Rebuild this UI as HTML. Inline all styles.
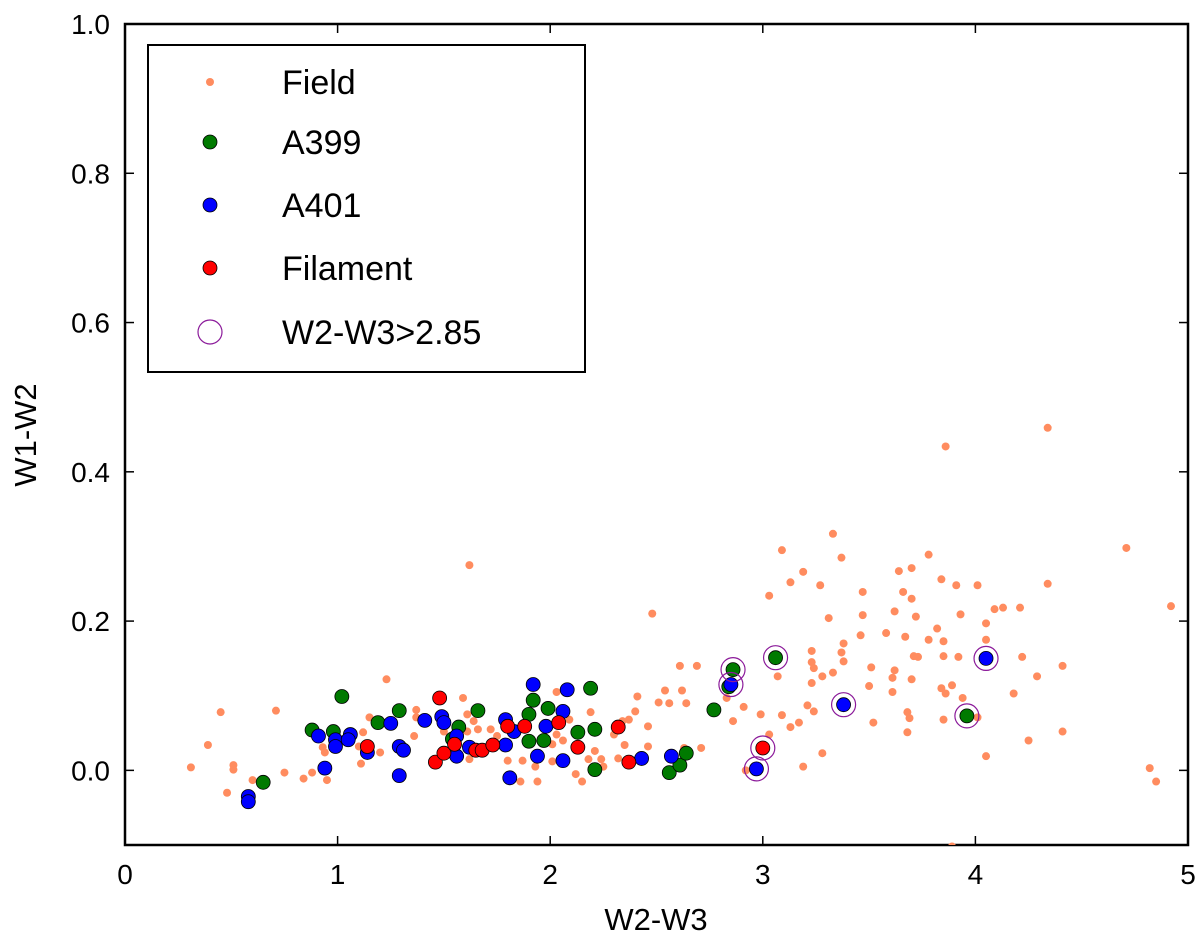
<!DOCTYPE html>
<html><head><meta charset="utf-8"><style>
body{margin:0;background:#fff}
svg text{font-family:"Liberation Sans","DejaVu Sans",sans-serif;fill:#000}
</style></head><body>
<svg id="chart" width="1200" height="938" viewBox="0 0 1200 938" xmlns="http://www.w3.org/2000/svg">
<g id="axes"></g>
<g id="marks"></g>
<g id="legend"></g>
</svg>
<script>
const xTicks=[0,1,2,3,4,5];
const yTicks=[0.0,0.2,0.4,0.6,0.8,1.0];
const fieldX=[4.34,3.86,3.33,3.09,3.37,3.78,3.19,3.64,3.70,3.13,3.27,3.03,3.47,3.66,3.70,3.84,3.91,4.01,4.34,4.71,4.92,3.31,3.47,3.62,3.72,3.93,4.09,4.13,4.21,4.05,3.46,3.58,3.67,3.82,3.78,3.85,4.05,3.38,3.23,3.37,3.38,3.23,3.24,3.71,3.73,3.85,3.92,4.22,4.41,3.07,3.28,3.33,3.51,3.62,3.61,3.70,4.29,2.69,3.23,3.50,3.61,3.84,3.86,3.89,4.18,3.94,2.83,2.62,2.64,2.91,3.21,3.24,2.99,3.09,2.86,3.13,3.17,3.52,3.68,3.69,3.85,4.01,3.68,4.41,4.25,3.03,2.71,3.28,4.05,3.19,2.92,4.82,4.85,3.89,
2.61,1.23,0.45,0.71,0.39,0.31,0.51,0.51,0.48,0.60,0.75,0.84,0.88,0.95,0.93,0.94,1.12,1.10,1.11,1.20,1.15,1.37,1.36,1.37,1.59,1.61,1.64,1.61,1.66,1.72,1.62,1.50,1.75,1.80,1.87,1.86,1.94,1.93,2.01,2.01,2.06,2.03,2.19,2.09,2.03,2.21,2.18,2.24,2.12,2.15,2.25,2.30,2.35,2.32,2.34,2.37,2.40,2.41,2.46,2.46,2.51,2.54,2.56,2.63,1.62,2.48];
const fieldY=[0.459,0.434,0.317,0.295,0.285,0.289,0.266,0.267,0.271,0.252,0.248,0.234,0.239,0.239,0.230,0.256,0.248,0.248,0.250,0.298,0.220,0.204,0.208,0.213,0.206,0.209,0.216,0.218,0.218,0.197,0.181,0.184,0.179,0.190,0.175,0.173,0.175,0.170,0.160,0.158,0.146,0.145,0.137,0.153,0.152,0.153,0.152,0.152,0.140,0.126,0.126,0.131,0.138,0.134,0.124,0.122,0.126,0.140,0.117,0.113,0.105,0.110,0.103,0.114,0.103,0.097,0.097,0.107,0.090,0.085,0.087,0.079,0.075,0.074,0.066,0.058,0.064,0.064,0.078,0.070,0.068,0.071,0.051,0.052,0.040,0.048,0.030,0.023,0.019,0.005,0.000,0.003,-0.015,-0.102,
0.140,0.122,0.078,0.080,0.034,0.004,0.007,0.001,-0.030,-0.013,-0.003,-0.011,-0.003,-0.013,0.031,0.024,0.051,0.032,0.009,0.024,0.071,0.081,0.046,0.071,0.097,0.075,0.066,0.052,0.055,0.055,0.015,0.052,0.046,0.013,0.013,-0.015,-0.015,0.005,0.012,0.035,0.040,0.105,0.078,0.068,0.048,0.026,0.015,0.015,-0.005,-0.015,0.005,0.048,0.034,0.016,0.066,0.068,0.079,0.099,0.059,0.032,0.091,0.107,0.090,0.030,0.275,0.210];
const a399X=[1.02,1.29,1.66,0.88,0.98,1.19,1.57,1.54,1.90,1.92,1.99,2.19,2.13,2.21,1.90,1.97,2.21,2.56,2.61,2.64,0.65,2.77,2.84,2.86,3.06,3.96];
const a399Y=[0.099,0.080,0.080,0.054,0.052,0.064,0.058,0.042,0.075,0.094,0.083,0.110,0.051,0.055,0.039,0.040,0.001,-0.003,0.007,0.023,-0.016,0.081,0.112,0.135,0.151,0.073];
const a401X=[1.92,2.08,1.41,1.49,1.50,1.25,0.91,0.99,0.99,1.06,1.05,1.14,1.29,1.31,0.94,1.29,0.58,0.58,1.56,1.56,1.62,1.79,1.83,1.79,1.98,2.06,1.94,2.06,1.81,2.43,2.57,2.85,2.97,3.38,4.05];
const a401Y=[0.115,0.108,0.067,0.072,0.064,0.063,0.046,0.041,0.032,0.048,0.041,0.024,0.032,0.027,0.003,-0.007,-0.035,-0.042,0.046,0.019,0.031,0.068,0.052,0.034,0.059,0.079,0.019,0.013,-0.010,0.016,0.019,0.115,0.002,0.088,0.150];
const filX=[1.48,1.14,1.46,1.50,1.55,1.65,1.68,1.73,1.80,1.88,2.04,2.13,2.32,2.37,3.00];
const filY=[0.097,0.032,0.011,0.023,0.035,0.027,0.027,0.034,0.059,0.059,0.064,0.031,0.058,0.011,0.030];
const hiX=[2.86,2.85,3.06,2.97,3.00,3.38,3.96,4.05];
const hiY=[0.135,0.115,0.151,0.002,0.030,0.088,0.073,0.150];

const L=125,R=1188,T=24,B=845, X0=0,X1=5,Y0=-0.1,Y1=1.0;
const sx=v=>L+(v-X0)/(X1-X0)*(R-L);
const sy=v=>B-(v-Y0)/(Y1-Y0)*(B-T);
const NS="http://www.w3.org/2000/svg";
function mk(tag,attrs,parent){const e=document.createElementNS(NS,tag);for(const k in attrs)e.setAttribute(k,attrs[k]);parent.appendChild(e);return e;}
const axes=document.getElementById('axes'),marks=document.getElementById('marks'),leg=document.getElementById('legend');

xTicks.forEach(t=>{const x=sx(t);
 let l=mk('line',{x1:x,x2:x,y1:B,y2:B-9,stroke:'#000','stroke-width':1.5},axes);
 
 
 l=mk('line',{x1:x,x2:x,y1:T,y2:T+9,stroke:'#000','stroke-width':1.5},axes);
 
 
 const tx=mk('text',{x:x,y:884,'font-size':28,'text-anchor':'middle'},axes);tx.textContent=String(t);
 
 
});
yTicks.forEach(t=>{const y=sy(t);
 let l=mk('line',{x1:L,x2:L+9,y1:y,y2:y,stroke:'#000','stroke-width':1.5},axes);
 
 
 l=mk('line',{x1:R,x2:R-9,y1:y,y2:y,stroke:'#000','stroke-width':1.5},axes);
 
 
 const tx=mk('text',{x:110,y:y+10,'font-size':28,'text-anchor':'end'},axes);tx.textContent=t.toFixed(1);
 
 
});
let xt=mk('text',{x:656,y:930,'font-size':31,'text-anchor':'middle'},axes);xt.textContent='W2-W3';


let yt=mk('text',{x:0,y:0,'font-size':31,'text-anchor':'middle',transform:'translate(36,435) rotate(-90)'},axes);yt.textContent='W1-W2';



const clip=mk('clipPath',{id:'pc'},marks);mk('rect',{x:L,y:T,width:R-L,height:B-T},clip);
const g=mk('g',{'clip-path':'url(#pc)'},marks);
fieldX.forEach((v,i)=>{const c=mk('circle',{cx:sx(v),cy:sy(fieldY[i]),r:4,fill:'#ff8c5f'},g);
 
 });
function big(xs,ys,col,name){xs.forEach((v,i)=>{const c=mk('circle',{cx:sx(v),cy:sy(ys[i]),r:7,fill:col,stroke:'#000','stroke-width':0.8},g);
 
 });}
big(a399X,a399Y,'#007a00','a399-point');
big(a401X,a401Y,'#0000ff','a401-point');
big(filX,filY,'#ff0000','filament-point');
hiX.forEach((v,i)=>{const c=mk('circle',{cx:sx(v),cy:sy(hiY[i]),r:12,fill:'none',stroke:'#8b1a9a','stroke-width':1.2},g);
 
 });
const frame=mk('rect',{x:L,y:T,width:R-L,height:B-T,fill:'none',stroke:'#000','stroke-width':2.5},axes);



const lb=mk('rect',{x:148,y:45,width:437,height:327,fill:'#fff',stroke:'#000','stroke-width':2},leg);


const entries=[['Field','field',82],['A399','a399',142],['A401','a401',205],['Filament','filament',268],['W2-W3>2.85','highlight',332]];
entries.forEach(e=>{const y=e[2];let m;
 if(e[1]==='field')m=mk('circle',{cx:210,cy:y,r:4,fill:'#ff8c5f'},leg);
 else if(e[1]==='a399')m=mk('circle',{cx:210,cy:y,r:7,fill:'#007a00',stroke:'#000','stroke-width':0.8},leg);
 else if(e[1]==='a401')m=mk('circle',{cx:210,cy:y,r:7,fill:'#0000ff',stroke:'#000','stroke-width':0.8},leg);
 else if(e[1]==='filament')m=mk('circle',{cx:210,cy:y,r:7,fill:'#ff0000',stroke:'#000','stroke-width':0.8},leg);
 else m=mk('circle',{cx:210,cy:y,r:12,fill:'none',stroke:'#8b1a9a','stroke-width':1.2},leg);
 
 
 const t=mk('text',{x:282,y:y+12,'font-size':34},leg);t.textContent=e[0];
 
 
});
</script>
</body></html>
